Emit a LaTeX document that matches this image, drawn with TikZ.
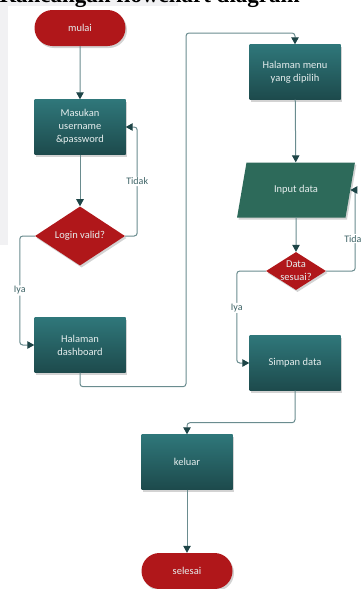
\documentclass[tikz,border=0pt]{standalone}
\usepackage{fontspec}
\setmainfont{Carlito}
\newfontfamily\headfont{Liberation Serif}
\usetikzlibrary{shapes.geometric,shapes.misc,arrows.meta,shadows}
\definecolor{tealtop}{HTML}{2F777A}
\definecolor{tealbot}{HTML}{1D4A4C}
\definecolor{redfill}{HTML}{B0171A}
\definecolor{greenfill}{HTML}{2D6A5A}
\definecolor{boxtext}{HTML}{E6EEEE}
\definecolor{linec}{HTML}{6A8C8F}
\definecolor{arrowc}{HTML}{1E4547}
\definecolor{lblc}{HTML}{3E6366}
\definecolor{panelgray}{HTML}{F1F1F3}
\begin{document}
\begin{tikzpicture}[x=1pt,y=-1pt,
  txt/.style={text=boxtext,align=center,font=\fontsize{10.5}{13}\selectfont},
  shd/.style={drop shadow={shadow xshift=1.5pt,shadow yshift=-2pt,opacity=0.35}},
  procbox/.style={rectangle,minimum width=91pt,minimum height=55pt,inner sep=0pt,
     top color=tealtop,bottom color=tealbot,shd,txt},
  term/.style={rounded rectangle,minimum width=91pt,minimum height=36pt,inner sep=0pt,
     fill=redfill,shd,txt},
  decis/.style={diamond,inner sep=0pt,fill=redfill,shd,txt},
  iobox/.style={trapezium,trapezium left angle=65,trapezium right angle=115,
     minimum height=55pt,minimum width=118pt,inner sep=0pt,trapezium stretches=true,
     fill=greenfill,shd,txt},
  conn/.style={draw=linec,line width=1pt,rounded corners=3pt,
     -{Triangle[length=7pt,width=7.5pt,color=arrowc]}},
  lbl/.style={fill=white,text=lblc,inner sep=1pt,font=\fontsize{10}{11}\selectfont}
]
\clip (0,0) rectangle (361,589);
\fill[panelgray] (0,0) rectangle (8,245);
\fill[panelgray] (0,0) rectangle (178,6);
\node[anchor=base east,inner sep=0pt,font=\headfont\bfseries\fontsize{23}{23}\selectfont] (head) at (300,2) {Rancangan flowchart diagram};

\node[term] (mulai) at (80,28) {mulai};
\node[procbox] (masuk) at (80,127) {Masukan\\username\\\&password};
\node[decis,minimum width=90pt,minimum height=53pt] (login) at (80,236) {Login valid?};
\node[procbox] (dash) at (80,345) {Halaman\\dashboard};
\node[procbox] (menu) at (295,72) {Halaman menu\\yang dipilih};
\node[iobox] (input) at (296,190) {Input data};
\node[decis,minimum width=60pt,minimum height=38pt,
  label={[txt,inner sep=0pt]center:Data\\sesuai?}] (sesuai) at (296,271) {};
\node[procbox] (simpan) at (295,363) {Simpan data};
\node[procbox] (keluar) at (187,462) {keluar};
\node[term] (selesai) at (187,571) {selesai};

\coordinate (c1) at (186,33);

\draw[conn] (mulai) -- (masuk);
\draw[conn] (masuk) -- (login);
\draw[conn] (login.east) -- ++(12,0) |- (masuk.east) node[lbl,pos=0.25] {Tidak};
\draw[conn] (login.west) -- ++(-15,0) |- (dash.west) node[lbl,pos=0.25] {Iya};
\draw[conn] (dash.south) -- ++(0,14) -| (c1) -| (menu.north);
\draw[conn] (menu) -- (input);
\draw[conn] (input) -- (sesuai);
\draw[conn] (sesuai.east) -- ++(29,0) |- (input.east) node[lbl,pos=0.2] {Tidak};
\draw[conn] (sesuai.west) -- ++(-29,0) |- (simpan.west) node[lbl,pos=0.2] {Iya};
\draw[conn] (simpan.south) -- ++(0,32) -| (keluar.north);
\draw[conn] (keluar) -- (selesai);
\end{tikzpicture}
\end{document}
